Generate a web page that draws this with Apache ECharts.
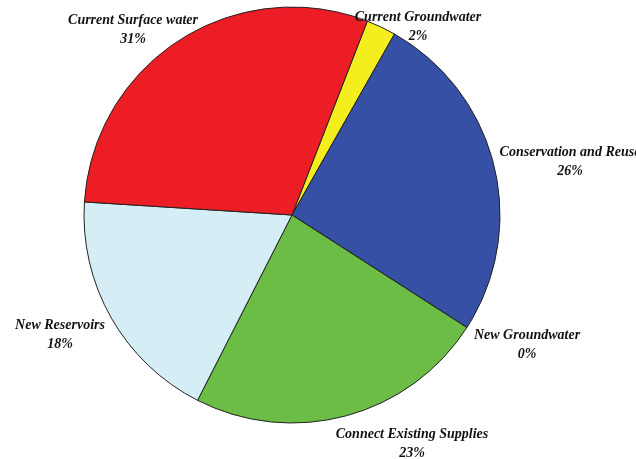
<!DOCTYPE html>
<html>
<head>
<meta charset="utf-8">
<script src="https://cdn.jsdelivr.net/npm/echarts@6/dist/echarts.min.js"></script>
<style>html,body{margin:0;padding:0;background:#fff}#c{width:636px;height:459px}</style>
</head>
<body>
<div id="c"></div>
<script>
var categories = ['Current Groundwater', 'Conservation and Reuse', 'New Groundwater', 'Connect Existing Supplies', 'New Reservoirs', 'Current Surface water'];
var values = [2.3, 25.9, 0, 23.4, 18.5, 29.9];
// percentages as printed on the labels
var percentLabels = ['2%', '26%', '0%', '23%', '18%', '31%'];
var colors = ['#F5EE1E', '#3550A4', '#3550A4', '#6CBD45', '#D5EEF5', '#EC1D25'];
var labelPos = [[418, 27], [570, 162], [527, 345], [412, 444], [60, 335], [133, 30]];

var chart = echarts.init(document.getElementById('c'));
chart.setOption({
  animation: false,
  series: [{
    type: 'pie',
    center: [292, 215],
    radius: 208,
    startAngle: 68.76,
    clockwise: true,
    avoidLabelOverlap: false,
    itemStyle: { borderColor: '#222', borderWidth: 1 },
    label: {
      show: true,
      position: 'outside',
      fontFamily: 'Liberation Serif',
      fontStyle: 'italic',
      fontWeight: 'bold',
      fontSize: 14,
      lineHeight: 19,
      color: '#111',
      align: 'center',
      formatter: function (p) { return p.name + '\n' + percentLabels[p.dataIndex]; }
    },
    labelLine: { show: false },
    labelLayout: function (p) {
      var pos = labelPos[p.dataIndex];
      return { x: pos[0], y: pos[1], align: 'center', verticalAlign: 'middle' };
    },
    data: categories.map(function (c, i) {
      return { name: c, value: values[i], itemStyle: { color: colors[i] } };
    })
  }]
});
</script>
</body>
</html>
